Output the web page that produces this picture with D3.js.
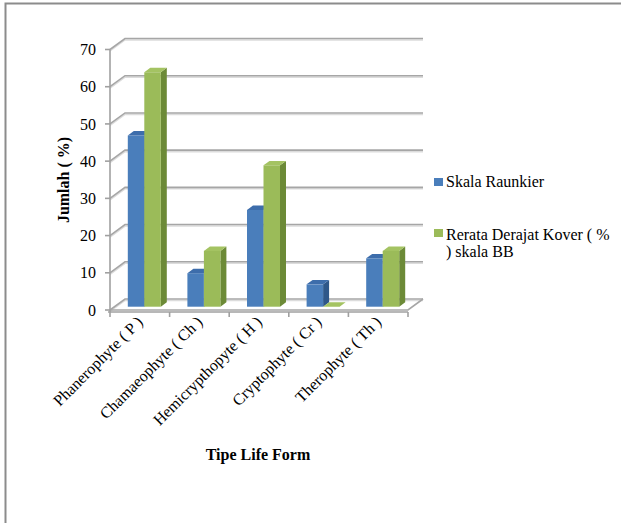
<html>
<head>
<meta charset="utf-8">
<title>Tipe Life Form</title>
<style type="text/css">
    body { margin: 0; background: #fff; }
</style>
</head>
<body>
<svg id="viz" width="621" height="523" font-family="'Liberation Serif', 'Times New Roman', 'DejaVu Serif', serif"></svg>

<script src="https://d3js.org/d3.v7.min.js"></script>
<script>

// data
var categories = ["Phanerophyte ( P )", "Chamaeophyte ( Ch )", "Hemicrypthopyte ( H )", "Cryptophyte ( Cr )", "Therophyte ( Th )"];
var raunkier = [46, 9, 26, 6, 13];
var rerataBB = [63, 15, 38, 0, 15];
var seriesNames = ["Skala Raunkier", "Rerata Derajat Kover ( %", ") skala BB"];
var yTicks = [0, 10, 20, 30, 40, 50, 60, 70];

var svg = d3.select("#viz");

// outer chart border (only top/left visible in the picture)
svg.append("path")
    .attr("d", "M5.5,523 L5.5,3.5 L621,3.5")
    .attr("fill", "none")
    .attr("stroke", "#8c8c8c")
    .attr("stroke-width", 2);

// fake 3d: front plane + depth offset
var dx = 15, dy = -11;
var x = d3.scaleBand().domain(categories).range([110, 408]);
var y = d3.scaleLinear().domain([0, 70]).range([310, 49.5]);

var walls = svg.append("g");

// gridlines on back wall and left wall
yTicks.forEach(function(t) {
    var yf = y(t);
    var pts = [[110, yf], [110 + dx, yf + dy], [408 + dx, yf + dy]];
    walls.append("path")
        .attr("d", d3.line()(pts.map(function(p) { return [p[0], p[1] + 1.5]; })))
        .attr("fill", "none")
        .attr("stroke", "#dcdcdc")
        .attr("stroke-width", 1.5);
    walls.append("path")
        .attr("d", d3.line()(pts))
        .attr("fill", "none")
        .attr("stroke", "#a6a6a6")
        .attr("stroke-width", 1.6);
});

// floor right edge
walls.append("path")
    .attr("d", d3.line()([[110, y(0)], [408, y(0)], [408 + dx, y(0) + dy]]))
    .attr("fill", "none")
    .attr("stroke", "#a6a6a6")
    .attr("stroke-width", 1.6);

// y axis line and ticks
walls.append("line")
    .attr("x1", 110).attr("x2", 110)
    .attr("y1", y(70)).attr("y2", y(0) + 2)
    .attr("stroke", "#a0a0a0")
    .attr("stroke-width", 1.6);

walls.selectAll(".ytick")
    .data(yTicks)
    .enter().append("line")
    .attr("x1", 105).attr("x2", 110)
    .attr("y1", function(d) { return y(d); })
    .attr("y2", function(d) { return y(d); })
    .attr("stroke", "#a0a0a0")
    .attr("stroke-width", 1.6);

// x axis front edge + ticks at band boundaries
walls.append("line")
    .attr("x1", 108).attr("x2", 408)
    .attr("y1", y(0) + 2).attr("y2", y(0) + 2)
    .attr("stroke", "#a0a0a0")
    .attr("stroke-width", 1.6);

var bounds = categories.map(function(c) { return x(c); }).concat([408]);
walls.selectAll(".xtick")
    .data(bounds)
    .enter().append("line")
    .attr("x1", function(d) { return d; })
    .attr("x2", function(d) { return d; })
    .attr("y1", y(0) + 2).attr("y2", y(0) + 7)
    .attr("stroke", "#a0a0a0")
    .attr("stroke-width", 1.6);

// y tick labels
svg.selectAll(".ylab")
    .data(yTicks)
    .enter().append("text")
    .attr("x", 96)
    .attr("y", function(d) { return y(d); })
    .attr("dy", "0.35em")
    .attr("text-anchor", "end")
    .style("font-size", "16px")
    .text(function(d) { return d; });

// bars
var series = [
    { values: raunkier, front: "#4a7ebb", top: "#3d6dab", side: "#2e5789" },
    { values: rerataBB, front: "#9bbb59", top: "#a4c362", side: "#6c8a37" }
];
var barW = 16.5;
var zIn = 0.3, zOut = 0.7;   // depth position of bars

var bars = svg.append("g");
categories.forEach(function(c, i) {
    var groupX = x(c) + x.bandwidth() / 2 - barW;
    series.forEach(function(s, j) {
        var v = s.values[i];
        var x0 = groupX + j * barW + dx * zIn;
        var x1 = x0 + barW;
        var yb = y(0) + dy * zIn;
        var yt = y(v) + dy * zIn;
        var ox = dx * (zOut - zIn), oy = dy * (zOut - zIn);
        // side
        bars.append("path")
            .attr("d", d3.line()([[x1, yt], [x1 + ox, yt + oy], [x1 + ox, yb + oy], [x1, yb]]) + "Z")
            .attr("fill", s.side);
        // front
        bars.append("rect")
            .attr("x", x0).attr("y", yt)
            .attr("width", barW).attr("height", Math.max(0, yb - yt))
            .attr("fill", s.front);
        // top
        bars.append("path")
            .attr("d", d3.line()([[x0, yt], [x0 + ox, yt + oy], [x1 + ox, yt + oy], [x1, yt]]) + "Z")
            .attr("fill", s.top);
    });
});

// category labels
svg.selectAll(".xlab")
    .data(categories)
    .enter().append("text")
    .attr("transform", function(d) {
        return "translate(" + (x(d) + x.bandwidth() / 2 + 4) + "," + 323 + ") rotate(-45)";
    })
    .attr("text-anchor", "end")
    .style("font-size", "16px")
    .text(function(d) { return d; });

// axis titles
svg.append("text")
    .attr("transform", "translate(69,180) rotate(-90)")
    .attr("text-anchor", "middle")
    .style("font-size", "16px")
    .style("font-weight", "bold")
    .text("Jumlah ( %)");

svg.append("text")
    .attr("x", 258)
    .attr("y", 460)
    .attr("text-anchor", "middle")
    .style("font-size", "16px")
    .style("font-weight", "bold")
    .text("Tipe Life Form");

// legend
var legend = svg.append("g");
legend.append("rect")
    .attr("x", 434).attr("y", 178).attr("width", 9).attr("height", 8)
    .attr("fill", series[0].front);
legend.append("text")
    .attr("x", 446).attr("y", 187)
    .style("font-size", "16px")
    .text(seriesNames[0]);
legend.append("rect")
    .attr("x", 434).attr("y", 229).attr("width", 9).attr("height", 8)
    .attr("fill", series[1].front);
legend.append("text")
    .attr("x", 446).attr("y", 240)
    .style("font-size", "16px")
    .text(seriesNames[1]);
legend.append("text")
    .attr("x", 446).attr("y", 257)
    .style("font-size", "16px")
    .text(seriesNames[2]);

</script>
</body>
</html>
